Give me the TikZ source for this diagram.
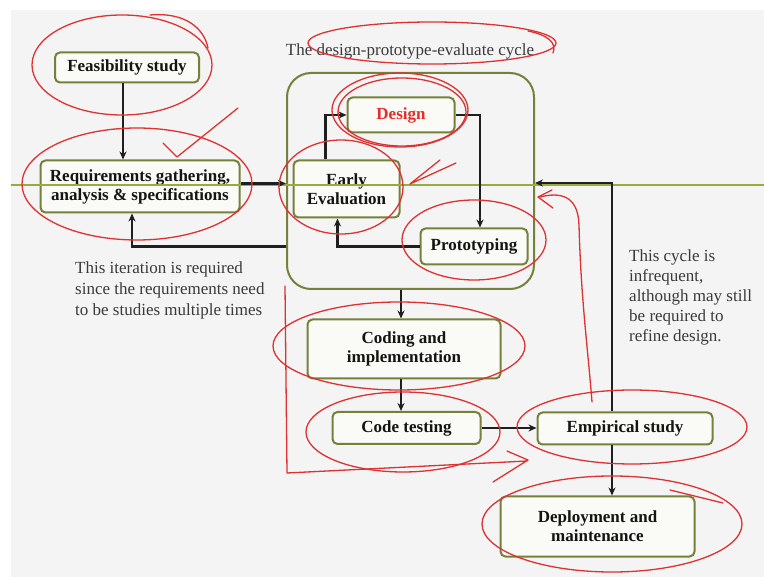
\documentclass[tikz,border=0pt]{standalone}
\usepackage{fontspec}
\setmainfont{Liberation Serif}
\usepackage{tikz}
\usetikzlibrary{arrows.meta, positioning, calc}

\definecolor{slidebg}{RGB}{244,244,244}
\definecolor{boxline}{RGB}{118,128,58}
\definecolor{boxfill}{RGB}{250,250,246}
\definecolor{inkred}{RGB}{222,50,50}
\definecolor{guideline}{RGB}{150,172,62}
\definecolor{notegray}{RGB}{58,58,58}
\definecolor{designred}{RGB}{228,45,45}

\tikzstyle{stage} = [
  rectangle, rounded corners=5pt, draw=boxline, fill=boxfill,
  line width=2pt, align=center, text=black!92,
  font=\fontsize{17}{19}\selectfont\bfseries
]
\tikzstyle{arrow} = [-{Stealth[length=8pt, width=7pt]}, line width=2.2pt, black!88]
\tikzstyle{note} = [align=left, anchor=north west, inner sep=0pt, text=notegray]
\tikzstyle{scribble} = [draw=inkred, line width=1.3pt, line cap=round, line join=round]

\begin{document}
\begin{tikzpicture}[x=1pt, y=-1pt]

  \useasboundingbox (0, 0) rectangle (764, 577);
  \fill[white] (0, 0) rectangle (764, 577);
  \fill[slidebg] (11, 10) rectangle (764, 577);

  \node[font=\fontsize{17}{19}\selectfont, text=notegray] (cycletitle) at (410, 51) {The design-prototype-evaluate cycle};

  \node[draw=boxline, line width=2pt, rounded corners=24pt,
        minimum width=247pt, minimum height=216pt] (cycle) at (410.5, 181) {};

  \node[stage, minimum width=144pt, minimum height=30pt] (feas) at (127, 67.5) {Feasibility study};
  \node[stage, minimum width=199pt, minimum height=52pt] (req) at (140, 186.5) {Requirements gathering,\\analysis \& specifications};
  \node[stage, minimum width=107pt, minimum height=35pt, text=designred] (design) at (401, 115) {Design};
  \node[stage, minimum width=106pt, minimum height=57pt] (early) at (346.5, 189) {Early\\Evaluation};
  \node[stage, minimum width=107pt, minimum height=36pt] (proto) at (474, 246.5) {Prototyping};
  \node[stage, minimum width=193pt, minimum height=59pt] (coding) at (404, 349) {Coding and\\implementation};
  \node[stage, minimum width=148pt, minimum height=32pt] (testing) at (406.5, 428) {Code testing};
  \node[stage, minimum width=175pt, minimum height=32pt] (emp) at (625, 428.5) {Empirical study};
  \node[stage, minimum width=194pt, minimum height=60pt] (dep) at (597.5, 526.5) {Deployment and\\maintenance};

  \node[note, font=\fontsize{17}{21}\selectfont] (iternote) at (75, 262) {This iteration is required\\since the requirements need\\to be studies multiple times};
  \node[note, font=\fontsize{17}{20}\selectfont] (cyclenote) at (629, 250) {This cycle is\\infrequent,\\although may still\\be required to\\refine design.};

  \draw[guideline, line width=1.5pt] (11, 185) -- (764, 185);

  \coordinate (empup) at ([xshift=-13pt]emp.north);
  \coordinate (empdown) at ([xshift=-13pt]emp.south);

  \draw[arrow] ([xshift=-4pt]feas.south) -- ([xshift=-4pt]feas.south |- req.north);
  \draw[arrow] ([yshift=3pt]req.east) -- ([yshift=3pt]req.east -| cycle.west);
  \draw[arrow] (proto.west -| cycle.west) -| ([xshift=-8pt]req.south);
  \draw[arrow] ([xshift=-21pt]early.north) |- (design.west);
  \draw[arrow] (design.east) -| ([xshift=6pt]proto.north);
  \draw[arrow] (proto.west) -| ([xshift=-9pt]early.south);
  \draw[arrow] ([xshift=-3pt]coding.north |- cycle.south) -- ([xshift=-3pt]coding.north);
  \draw[arrow] ([xshift=-3pt]coding.south) -- ([xshift=-3pt]coding.south |- testing.north);
  \draw[arrow] (testing.east) -- (testing.east -| emp.west);
  \draw[arrow] (empup) |- ([yshift=-2pt]cycle.east);
  \draw[arrow] (empdown) -- (empdown |- dep.north);

  % pen marks
  \draw[scribble] (122, 65) ellipse [x radius=90pt, y radius=50pt];
  \draw[scribble] (150, 15) .. controls (185, 12) and (204, 28) .. (208, 48);
  \draw[scribble] (137, 184) ellipse [x radius=115pt, y radius=56pt];
  \draw[scribble] (163, 143) -- (177, 157) -- (238, 108);
  \draw[scribble] (432, 43) ellipse [x radius=124pt, y radius=21pt];
  \draw[scribble] (528, 31) .. controls (548, 35) and (557, 43) .. (553, 53);
  \draw[scribble] (400, 110) ellipse [x radius=68pt, y radius=37pt];
  \draw[scribble] (402, 112) ellipse [x radius=64pt, y radius=34pt];
  \draw[scribble] (341, 187) ellipse [x radius=62pt, y radius=47pt];
  \draw[scribble] (456, 163) -- (410, 184) -- (440, 160);
  \draw[scribble] (474, 240) ellipse [x radius=72pt, y radius=40pt];
  \draw[scribble] (552, 190) -- (538, 197) -- (553, 208);
  \draw[scribble] (540, 197) .. controls (560, 192) and (578, 195) .. (579, 225)
                  .. controls (581, 300) and (588, 350) .. (592, 402);
  \draw[scribble] (399, 346) ellipse [x radius=126pt, y radius=44pt];
  \draw[scribble] (403, 432) ellipse [x radius=97pt, y radius=40pt];
  \draw[scribble] (285, 286) -- (287, 473) -- (527, 461);
  \draw[scribble] (507, 451) -- (528, 460) -- (493, 482);
  \draw[scribble] (632, 427) ellipse [x radius=115pt, y radius=37pt];
  \draw[scribble] (612, 524) ellipse [x radius=130pt, y radius=48pt];
  \draw[scribble] (670, 490) -- (723, 503);

\end{tikzpicture}
\end{document}
